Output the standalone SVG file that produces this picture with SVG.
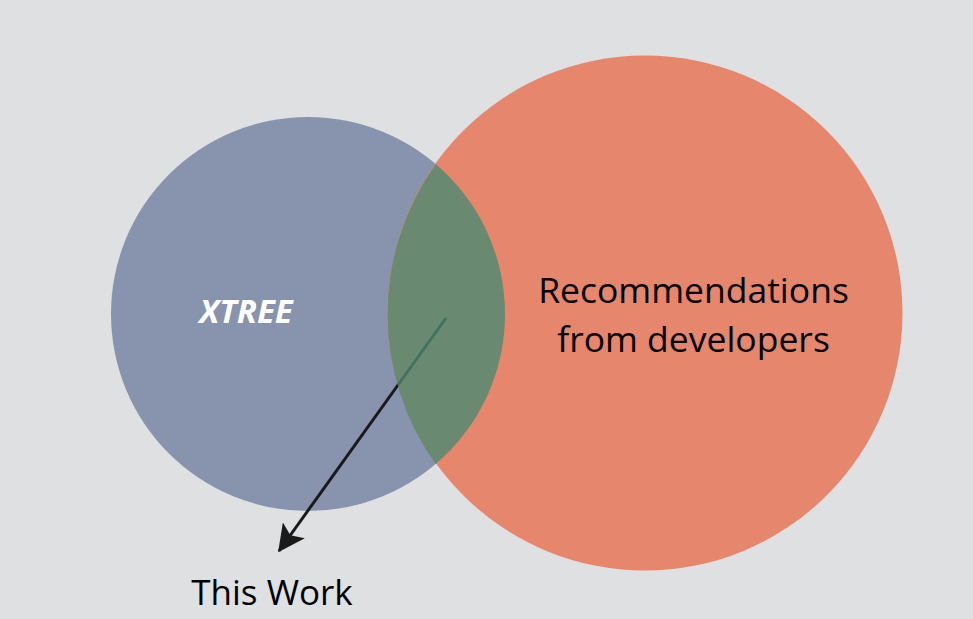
<svg xmlns="http://www.w3.org/2000/svg" width="973" height="619" viewBox="0 0 973 619">
<style>
.lbl{font-family:"Open Sans","Liberation Sans",sans-serif;fill:#000;}
</style>
<defs>
<marker id="ah" markerWidth="9" markerHeight="9" refX="8.5" refY="4.5" orient="auto" markerUnits="strokeWidth">
<path d="M0,0 L9,4.5 L0,9 L2,4.5 Z" fill="#1a1a1a"/>
</marker>
</defs>
<rect width="973" height="619" fill="#dfe0e2"/>
<g id="xtree">
<circle cx="308" cy="314" r="197" fill="#8893ae"/>
<text x="246" y="323" text-anchor="middle" font-family="'Open Sans','Liberation Sans',sans-serif" font-weight="bold" font-style="italic" font-size="33" fill="#fff">XTREE</text>
</g>
<g id="recommendations">
<circle cx="645" cy="313" r="257.5" fill="#e6866d"/>
<text class="lbl" x="693.5" y="303" text-anchor="middle" font-size="35.5">Recommendations</text>
<text class="lbl" x="693.5" y="352" text-anchor="middle" font-size="35.5">from developers</text>
</g>
<g id="connectors">
<line x1="446" y1="318" x2="279" y2="551" stroke="#1a1a1a" stroke-width="3" marker-end="url(#ah)"/>
</g>
<g id="overlap">
<path d="M435.7,164 A257.5,257.5 0 0 0 435.7,464 A197,197 0 0 0 435.7,164 Z" fill="#4b8a72" fill-opacity="0.8"/>
</g>
<g id="thiswork">
<text class="lbl" x="272" y="605" text-anchor="middle" font-size="35">This Work</text>
</g>
</svg>
